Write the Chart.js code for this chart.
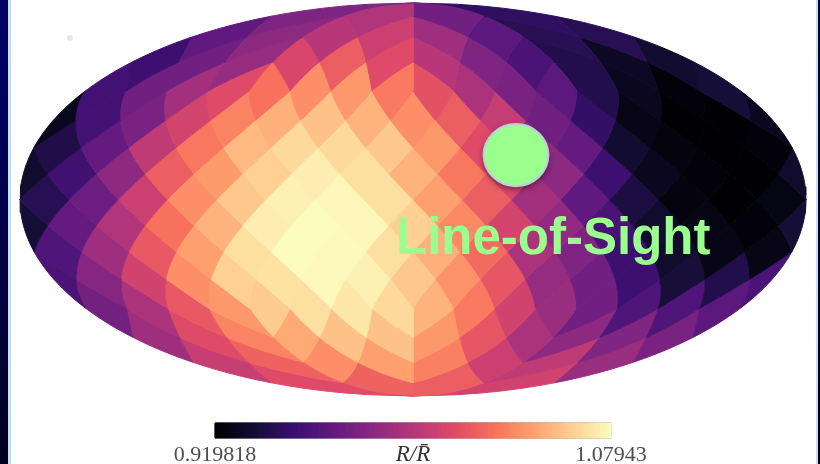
<!DOCTYPE html>
<html>
<head>
<meta charset="utf-8">
<title>R/R map</title>
<script src="https://cdn.jsdelivr.net/npm/chart.js@4/dist/chart.umd.min.js"></script>
<style>
    html, body { margin: 0; padding: 0; background: #fff; overflow: hidden; }
    #wrap { position: relative; width: 820px; height: 464px; }
    #map { display: block; filter: blur(0.6px); }
    .strip { position: absolute; top: 0; height: 464px; }
</style>
</head>
<body>
<div id="wrap">
    <canvas id="map" width="820" height="464"></canvas>
    <div class="strip" style="left:0;width:8px;background:linear-gradient(#000066,#00004a 50%,#00001e)"></div>
    <div class="strip" style="left:8px;width:3px;background:#c3e3ea"></div>
    <div class="strip" style="left:816px;width:2px;background:#c3e3ea"></div>
    <div class="strip" style="left:818px;width:2px;background:linear-gradient(#000050,#00001e)"></div>
</div>
<script>
// HEALPix nside=4 cells, ring by ring from the north pole, left to right
const ring01 = [0.978, 0.997, 0.973, 0.947];
const ring02 = [0.966, 0.984, 1.000, 1.008, 0.990, 0.965, 0.944, 0.944];
const ring03 = [0.952, 0.973, 0.987, 1.013, 1.024, 1.016, 1.000, 0.978, 0.958, 0.942, 0.930, 0.934];
const ring04 = [0.955, 0.973, 0.992, 1.016, 1.032, 1.042, 1.045, 1.035, 1.019, 0.995, 0.976, 0.965, 0.942, 0.928, 0.922, 0.936];
const ring05 = [0.928, 0.955, 0.976, 1.011, 1.038, 1.053, 1.059, 1.054, 1.042, 1.024, 1.005, 0.973, 0.949, 0.926, 0.920, 0.920];
const ring06 = [0.941, 0.968, 1.003, 1.034, 1.056, 1.067, 1.067, 1.061, 1.045, 1.016, 0.987, 0.968, 0.934, 0.923, 0.920, 0.922];
const ring07 = [0.933, 0.954, 0.984, 1.024, 1.046, 1.064, 1.074, 1.069, 1.054, 1.034, 1.013, 0.984, 0.952, 0.928, 0.922, 0.920];
const ring08 = [0.944, 0.971, 1.008, 1.042, 1.061, 1.075, 1.077, 1.069, 1.048, 1.024, 0.992, 0.966, 0.939, 0.923, 0.920, 0.925];
const ring09 = [0.936, 0.968, 0.997, 1.032, 1.054, 1.074, 1.079, 1.077, 1.064, 1.040, 1.011, 0.986, 0.957, 0.933, 0.925, 0.922];
const ring10 = [0.960, 0.990, 1.022, 1.048, 1.069, 1.079, 1.078, 1.069, 1.053, 1.029, 0.995, 0.978, 0.952, 0.933, 0.926, 0.926];
const ring11 = [0.958, 0.981, 1.010, 1.042, 1.064, 1.070, 1.078, 1.075, 1.061, 1.043, 1.021, 0.987, 0.973, 0.952, 0.937, 0.942];
const ring12 = [0.974, 0.995, 1.022, 1.045, 1.062, 1.069, 1.072, 1.067, 1.054, 1.035, 1.010, 0.989, 0.973, 0.960, 0.960, 0.965];
const ring13 = [0.990, 1.016, 1.038, 1.051, 1.059, 1.059, 1.045, 1.021, 0.995, 0.984, 0.979, 0.976];
const ring14 = [1.006, 1.026, 1.042, 1.048, 1.037, 1.008, 1.003, 0.989];
const ring15 = [1.016, 1.026, 1.024, 1.010];
const rings = [ring01, ring02, ring03, ring04, ring05, ring06, ring07, ring08, ring09, ring10, ring11, ring12, ring13, ring14, ring15];

const valueMin = 0.919818;
const valueMax = 1.07943;
const tickLabels = ['0.919818', '1.07943'];
const barLabel = 'R/R\u0304';
const sightLabel = 'Line-of-Sight';

const magma = ['#000004', '#140e36', '#3b0f70', '#641a80', '#8c2981', '#b73779', '#de4968', '#f7705c', '#fe9f6d', '#fecf92', '#fcfdbf'];

const PI = Math.PI;

function colorFor(value) {
    const t = Math.min(1, Math.max(0, (value - valueMin) / (valueMax - valueMin))) * (magma.length - 1);
    const i = Math.min(magma.length - 2, Math.floor(t));
    const a = parseInt(magma[i].slice(1), 16);
    const b = parseInt(magma[i + 1].slice(1), 16);
    const mix = shift => Math.round(((a >> shift) & 255) * (1 - t + i) + ((b >> shift) & 255) * (t - i));
    return `rgb(${mix(16)}, ${mix(8)}, ${mix(0)})`;
}

// mollweide, x in -2..2 and y in -1..1
function project(lon, z) {
    const target = PI * z;
    let angle = Math.asin(z);
    for (let n = 0; n < 40; n++) {
        const denom = 2 + 2 * Math.cos(2 * angle);
        if (denom < 1e-6) break;
        angle -= (2 * angle + Math.sin(2 * angle) - target) / denom;
    }
    return { x: 2 * (lon / PI) * Math.cos(angle), y: Math.sin(angle) };
}

// healpix plane to sphere
function planeToMap(px, py, facet) {
    const abs = Math.abs(py);
    if (abs <= PI / 4) {
        return project(Math.max(-PI, Math.min(PI, px)), 8 * py / (3 * PI));
    }
    const lon = abs >= PI / 2 - 1e-9 ? facet : facet + (px - facet) * (PI / 4) / (PI / 2 - abs);
    const s = 2 - 4 * abs / PI;
    return project(lon, Math.sign(py) * (1 - s * s / 3));
}

function cellPolygon(cx, cy) {
    const d = PI / 16;
    const facet = -PI + (Math.floor((cx + PI) / (PI / 2)) + 0.5) * PI / 2;
    const corners = [[cx, cy + d], [cx + d, cy], [cx, cy - d], [cx - d, cy], [cx, cy + d]];
    const points = [];
    for (let c = 0; c < 4; c++) {
        for (let s = 0; s < 6; s++) {
            const f = s / 6;
            const px = corners[c][0] + (corners[c + 1][0] - corners[c][0]) * f;
            const py = corners[c][1] + (corners[c + 1][1] - corners[c][1]) * f;
            points.push(planeToMap(px, py, facet));
        }
    }
    points.push(points[0]);
    return points;
}

function polygonDataset(points, color, xAxisID) {
    return {
        data: points,
        xAxisID: xAxisID || 'x',
        showLine: true,
        fill: 'shape',
        tension: 0,
        pointRadius: 0,
        borderWidth: 1,
        borderColor: color,
        backgroundColor: color
    };
}

const datasets = [];
rings.forEach((values, r) => {
    const ring = r + 1;
    const cy = PI / 2 - ring * PI / 16;
    const m = Math.min(ring, 16 - ring);
    if (m <= 4 && (ring <= 4 || ring >= 12)) {
        values.forEach((value, idx) => {
            const f = Math.floor(idx / m);
            const j = idx % m;
            const cx = -PI + (f + 0.5) * PI / 2 + (j - (m - 1) / 2) * PI / 8;
            datasets.push(polygonDataset(cellPolygon(cx, cy), colorFor(value)));
        });
    } else {
        const offset = ring % 2 === 0 ? 0.5 : 0;
        values.forEach((value, k) => {
            const cx = -PI + (k + offset) * PI / 8;
            datasets.push(polygonDataset(cellPolygon(cx, cy), colorFor(value)));
            // the cell cut by the map edge shows up on both sides
            if (k === 0 && offset === 0) {
                datasets.push(polygonDataset(cellPolygon(PI, cy), colorFor(value)));
            }
        });
    }
});

// colour bar, drawn on its own value axis
const barTop = -1.1374;
const barBottom = -1.2137;
const barSteps = 132;
for (let i = 0; i < barSteps; i++) {
    const v0 = valueMin + (valueMax - valueMin) * i / barSteps;
    const v1 = valueMin + (valueMax - valueMin) * (i + 1) / barSteps;
    datasets.push(polygonDataset([
        { x: v0, y: barTop }, { x: v1, y: barTop }, { x: v1, y: barBottom }, { x: v0, y: barBottom }, { x: v0, y: barTop }
    ], colorFor((v0 + v1) / 2), 'xv'));
}
datasets.push({
    data: [
        { x: valueMin, y: barTop }, { x: valueMax, y: barTop }, { x: valueMax, y: barBottom }, { x: valueMin, y: barBottom }, { x: valueMin, y: barTop }
    ],
    xAxisID: 'xv',
    showLine: true,
    fill: false,
    tension: 0,
    pointRadius: 0,
    borderWidth: 1,
    borderColor: '#6e6e6e'
});

const overlay = {
    id: 'overlay',
    afterDatasetsDraw(chart) {
        const { ctx, scales } = chart;
        const px = scales.x.getPixelForValue.bind(scales.x);
        const py = scales.y.getPixelForValue.bind(scales.y);
        const k = px(1) - px(0);

        // speck on the slide
        ctx.save();
        ctx.fillStyle = '#e6e6e6';
        ctx.beginPath();
        ctx.arc(px(-1.746), py(0.822), 3, 0, 2 * PI);
        ctx.fill();

        // line of sight marker
        ctx.shadowColor = 'rgba(0, 0, 0, 0.5)';
        ctx.shadowBlur = 6;
        ctx.shadowOffsetY = 3;
        ctx.fillStyle = '#9bff8d';
        ctx.strokeStyle = '#bccbe2';
        ctx.lineWidth = 2;
        ctx.beginPath();
        ctx.ellipse(px(0.524), py(0.226), 0.165 * k, 0.158 * k, 0, 0, 2 * PI);
        ctx.fill();
        ctx.shadowColor = 'transparent';
        ctx.stroke();

        ctx.fillStyle = '#9bff8d';
        ctx.font = 'bold 51px "Liberation Sans"';
        ctx.textAlign = 'left';
        ctx.textBaseline = 'alphabetic';
        ctx.fillText(sightLabel, px(-0.0865), py(-0.277));

        // colour bar labels
        const xv = scales.xv;
        ctx.fillStyle = '#4e4e4e';
        ctx.textAlign = 'center';
        ctx.font = '22px "Liberation Serif"';
        ctx.fillText(tickLabels[0], xv.getPixelForValue(valueMin), 461);
        ctx.fillText(tickLabels[1], xv.getPixelForValue(valueMax), 461);
        ctx.fillStyle = '#333333';
        ctx.font = 'italic 23px "Liberation Serif"';
        ctx.fillText(barLabel, px(0), 461);
        ctx.restore();
    }
};

// 196.5 px per map unit, centre of the map at (413, 199.5)
const unit = 196.5;
const perPixel = (valueMax - valueMin) / 396;

new Chart(document.getElementById('map'), {
    type: 'scatter',
    data: { datasets: datasets },
    plugins: [overlay],
    options: {
        responsive: false,
        animation: false,
        layout: { padding: 0 },
        plugins: { legend: { display: false }, tooltip: { enabled: false }, title: { display: false } },
        events: [],
        scales: {
            x: { type: 'linear', display: false, min: -413 / unit, max: 407 / unit },
            y: { type: 'linear', display: false, min: -264.5 / unit, max: 199.5 / unit },
            xv: { type: 'linear', display: false, axis: 'x', min: valueMin - 215 * perPixel, max: valueMin + 605 * perPixel }
        }
    }
});
</script>
</body>
</html>
